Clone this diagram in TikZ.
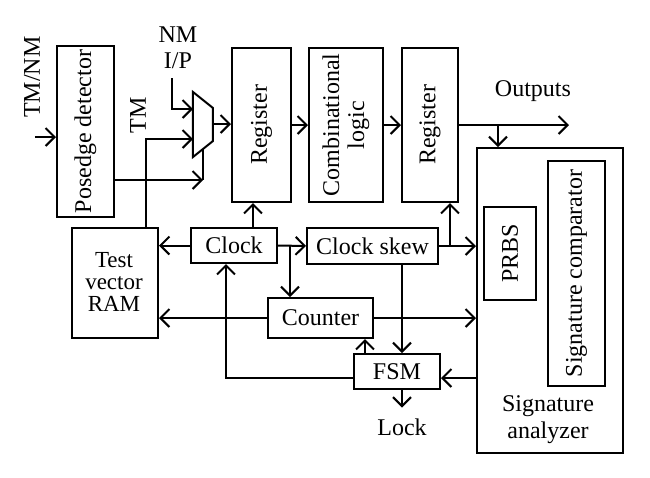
\documentclass[tikz,border=0pt]{standalone}
\usepackage{fontspec}
\setmainfont{Liberation Serif}
\usetikzlibrary{arrows.meta,calc}
\begin{document}
\begin{tikzpicture}[x=0.5pt,y=-0.5pt,line width=1pt,
  box/.style={draw, rectangle, inner sep=0pt},
  arr/.style={-{Straight Barb[length=4.5pt,width=9pt,line width=1pt]}},
  font=\fontsize{12}{13}\selectfont]
\useasboundingbox[fill=white] (0,0) rectangle (650,478);

% blocks
\node[box, minimum width=28.5pt, minimum height=85.5pt] (pd) at (85.5,131.5) {};
\node[rotate=90] at (pd) {Posedge detector};
\node[box, minimum width=29.5pt, minimum height=77pt] (reg1) at (261.5,125) {};
\node[rotate=90] at (reg1) {Register};
\node[box, minimum width=37pt, minimum height=77pt] (comb) at (346,125) {};
\node[rotate=90, align=center, font=\fontsize{12}{12.5}\selectfont] at (comb) {Combinational\\logic};
\node[box, minimum width=28pt, minimum height=77pt] (reg2) at (430,125) {};
\node[rotate=90] at (reg2) {Register};
\node[box, minimum width=73pt, minimum height=152.5pt] (sa) at (550,300.5) {};
\node[box, minimum width=28.5pt, minimum height=112.5pt] (sc) at (576.5,273.5) {};
\node[rotate=90] at (sc) {Signature comparator};
\node[box, minimum width=26pt, minimum height=46.5pt] (prbs) at (510,253.5) {};
\node[rotate=90] at (prbs) {PRBS};
\node[align=center, font=\fontsize{12}{13.5}\selectfont] (salab) at (548,420) {Signature\\analyzer};
\node[box, minimum width=43pt, minimum height=55pt] (tv) at (115,283) {};
\node[align=center, font=\fontsize{11.5}{11.2}\selectfont] at (114,282) {Test\\vector\\RAM};
\node[box, minimum width=43pt, minimum height=17.5pt] (clk) at (234,245.5) {Clock};
\node[box, minimum width=65.5pt, minimum height=18pt] (cs) at (372.5,246) {Clock skew};
\node[box, minimum width=52.5pt, minimum height=20pt] (cnt) at (320.5,318) {Counter};
\node[box, minimum width=43pt, minimum height=17.5pt] (fsm) at (397,371.5) {FSM};

% multiplexer
\draw (193,92) -- (213,108) -- (213,141) -- (193,157) -- cycle;
\coordinate (muxA) at (193,109);
\coordinate (muxB) at (193,139);
\coordinate (muxO) at (213,124);
\coordinate (muxS) at (203,149);

% labels
\node[rotate=90] (tmnm) at (32,77) {TM/NM};
\node[rotate=90] (tm) at (138,115) {TM};
\node[align=center] (nmip) at (178,48) {NM\\I/P};
\node (outs) at (533,91) {Outputs};
\node[inner sep=0pt, outer sep=5.5pt] (lock) at (402,427) {Lock};

% helper coordinates
\coordinate (tmnmin) at (35,137);
\coordinate (nmtop) at (172,78);
\coordinate (tvtop) at (146,228);
\coordinate (sel) at (203,180);
\coordinate (outend) at (569,125);
\coordinate (tap) at (498,125);
\coordinate (c1) at (253,0);
\coordinate (c2) at (290,245.5);
\coordinate (c3) at (226,378);
\coordinate (c4) at (365,0);
\coordinate (c5) at (402,0);
\coordinate (c6) at (450,246);
\coordinate (c7) at (477,378);

% connectors
\draw[arr] (tmnmin) -- (tmnmin -| pd.west);
\draw[arr] (nmtop) |- (muxA);
\draw[arr] (tvtop) |- (muxB);
\draw[arr] (pd.east |- sel) -- (sel);
\draw (sel) -- (muxS);
\draw[arr] (muxO) -- (muxO -| reg1.west);
\draw[arr] (reg1.east) -- (comb.west);
\draw[arr] (comb.east) -- (reg2.west);
\draw[arr] (reg2.east) -- (outend);
\draw[arr] (tap) -- (tap |- sa.north);
\draw[arr] (clk.north -| c1) -- (reg1.south -| c1);
\draw[arr] (clk.west) -- (tv.east |- clk.west);
\draw[arr] (clk.east) -- (cs.west);
\draw[arr] (c2) -- (c2 |- cnt.north);
\draw[arr] (cnt.west) -- (tv.east |- cnt.west);
\draw[arr] (cnt.east) -- (sa.west |- cnt.east);
\draw[arr] (cs.east) -- (sa.west |- cs.east);
\draw[arr] (c6) -- (c6 |- reg2.south);
\draw[arr] (cs.south -| c5) -- (fsm.north -| c5);
\draw[arr] (fsm.north -| c4) -- (cnt.south -| c4);
\draw[arr] (fsm.west |- c3) -| (clk.south -| c3);
\draw[arr] (sa.west |- c7) -- (fsm.east |- c7);
\draw[arr] (fsm.south -| c5) -- (lock.north);
\end{tikzpicture}
\end{document}
